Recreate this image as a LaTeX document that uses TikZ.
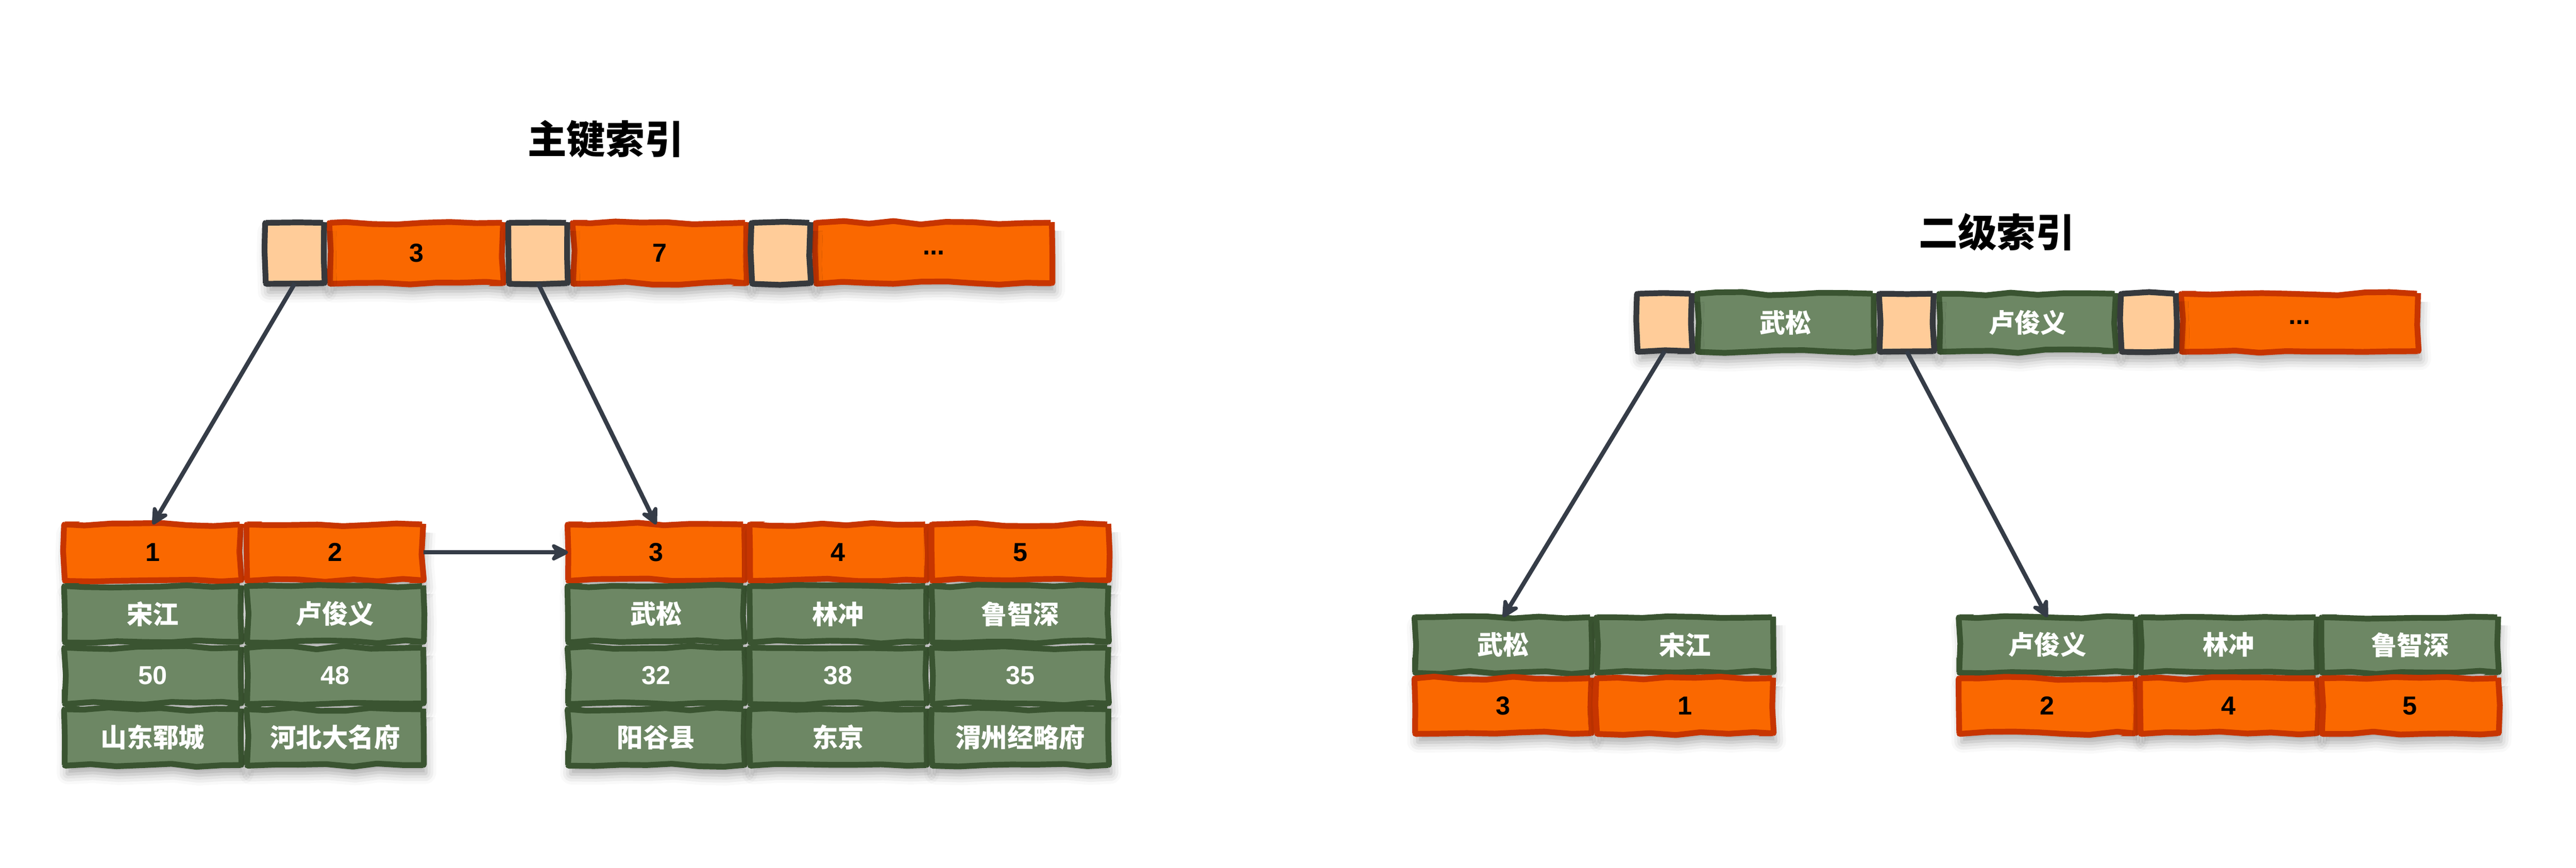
\documentclass[tikz, border = 0pt]{standalone}
\usepackage{fontspec}
\setmainfont{Liberation Sans}
\newfontfamily\cjk{Noto Sans CJK SC}
\usetikzlibrary{arrows.meta, decorations.pathmorphing, shadows.blur}

\definecolor{keyfill}{HTML}{FA6800}
\definecolor{keyline}{HTML}{C73500}
\definecolor{datafill}{HTML}{6D8764}
\definecolor{dataline}{HTML}{3A5431}
\definecolor{ptrfill}{HTML}{FFCC99}
\definecolor{ptrline}{HTML}{36393D}
\definecolor{linkcolor}{HTML}{353C47}

\tikzset{
	rough/.style = {decorate, decoration = {random steps, segment length = 9pt, amplitude = 0.6pt}, rounded corners = 0.4pt},
	cell/.style = {rough, line width = 2pt, outer sep = 0pt, inner sep = 0pt, minimum height = 0.68cm, font = \bfseries\fontsize{9}{10}\selectfont,
		blur shadow = {shadow xshift = 0.8pt, shadow yshift = -3pt, shadow blur radius = 3.5pt, shadow opacity = 35}},
	keycell/.style = {cell, draw = keyline, fill = keyfill, text = black},
	datacell/.style = {cell, draw = dataline, fill = datafill, text = white},
	ptrcell/.style = {cell, draw = ptrline, fill = ptrfill},
	leafcell/.style = {minimum width = 2.145cm},
	link/.style = {->, draw = linkcolor, line width = 1.5pt},
	title/.style = {font = \cjk\bfseries\fontsize{13.5}{15}\selectfont}
}

\begin{document}
\begin{tikzpicture}[> = {Stealth[length = 7.5pt, width = 7.5pt, inset = 2.5pt, round]}]

	\pgfmathsetseed{7}
	\useasboundingbox (0, 0) rectangle (31.36, -10.568);

	% Titles

	\node [title] (pktitle) at (7.372, -1.696) {主键索引};
	\node [title] (sktitle) at (24.308, -2.828) {二级索引};

	% Root of the primary key index

	\foreach \n/\x/\k in {1/5.07/3, 2/8.03/7}
		\node [keycell, minimum width = 2.11cm, minimum height = 0.736cm] (pk\n) at (\x, -3.08) {\k};
	\node [keycell, minimum width = 2.87cm, minimum height = 0.736cm] (pk3) at (11.37, -3.08) {...};
	\foreach \n/\x in {1/3.59, 2/6.55, 3/9.51}
		\node [ptrcell, minimum width = 0.71cm, minimum height = 0.736cm] (pp\n) at (\x, -3.08) {};

	% Leaves of the primary key index: key, then the whole row

	\foreach \n/\x/\k/\who/\age/\home in {1/1.86/1/宋江/50/山东郓城, 2/4.08/2/卢俊义/48/河北大名府}
	{
		\node [keycell, leafcell] (lk\n) at (\x, -6.725) {\k};
		\node [datacell, leafcell] (ln\n) at (\x, -7.475) {\cjk\who};
		\node [datacell, leafcell] (la\n) at (\x, -8.225) {\age};
		\node [datacell, leafcell] (lh\n) at (\x, -8.975) {\cjk\home};
	}

	\foreach \n/\x/\k/\who/\age/\home in {1/7.988/3/武松/32/阳谷县, 2/10.204/4/林冲/38/东京, 3/12.42/5/鲁智深/35/渭州经略府}
	{
		\node [keycell, leafcell] (mk\n) at (\x, -6.725) {\k};
		\node [datacell, leafcell] (mn\n) at (\x, -7.475) {\cjk\who};
		\node [datacell, leafcell] (ma\n) at (\x, -8.225) {\age};
		\node [datacell, leafcell] (mh\n) at (\x, -8.975) {\cjk\home};
	}

	% Root of the secondary index

	\foreach \n/\x/\who in {1/21.738/武松, 2/24.684/卢俊义}
		\node [datacell, minimum width = 2.146cm, minimum height = 0.70cm] (sk\n) at (\x, -3.926) {\cjk\who};
	\node [keycell, minimum width = 2.88cm, minimum height = 0.70cm] (sk3) at (27.997, -3.926) {...};
	\foreach \n/\x in {1/20.265, 2/23.211, 3/26.157}
		\node [ptrcell, minimum width = 0.66cm, minimum height = 0.70cm] (sp\n) at (\x, -3.926) {};

	% Leaves of the secondary index: name, then primary key

	\foreach \n/\x/\who/\k in {1/18.299/武松/3, 2/20.513/宋江/1}
	{
		\node [datacell, leafcell, minimum height = 0.67cm] (sln\n) at (\x, -7.85) {\cjk\who};
		\node [keycell, leafcell, minimum height = 0.67cm] (slk\n) at (\x, -8.593) {\k};
	}

	\foreach \n/\x/\who/\k in {1/24.924/卢俊义/2, 2/27.132/林冲/4, 3/29.34/鲁智深/5}
	{
		\node [datacell, leafcell, minimum height = 0.67cm] (srn\n) at (\x, -7.85) {\cjk\who};
		\node [keycell, leafcell, minimum height = 0.67cm] (srk\n) at (\x, -8.593) {\k};
	}

	% Pointers

	\draw [link] (pp1.south) -- (lk1.north);
	\draw [link] (pp2.south) -- (mk1.north);
	\draw [link] (lk2.east) -- (mk1.west);
	\draw [link] (sp1.south) -- (sln1.north);
	\draw [link] (sp2.south) -- (srn1.north);

\end{tikzpicture}
\end{document}
